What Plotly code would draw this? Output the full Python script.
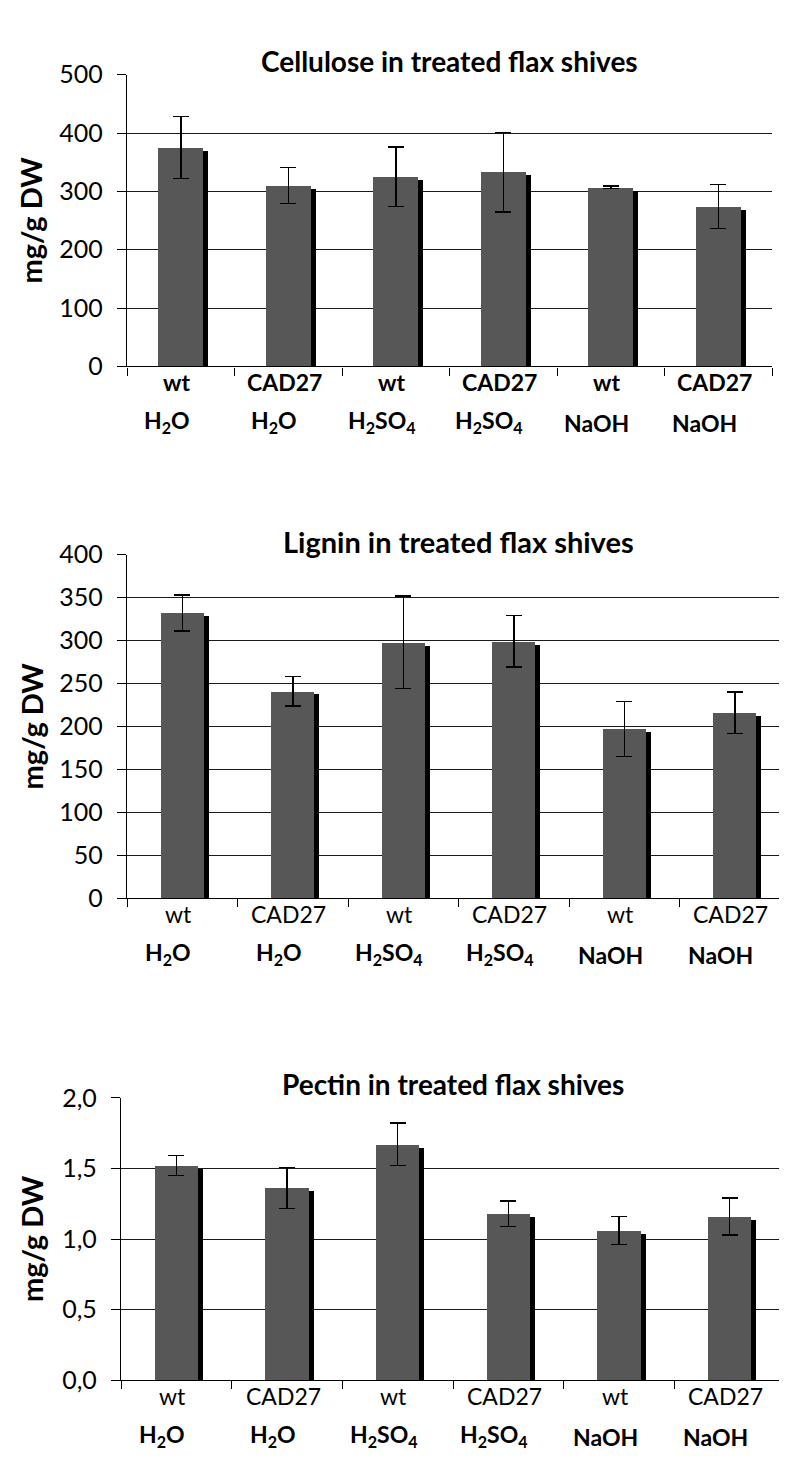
import plotly.graph_objects as go

# x categories (two label lines under each bar)
genotypes = ["wt", "CAD27", "wt", "CAD27", "wt", "CAD27"]
treatments = ["H<sub>2</sub>O", "H<sub>2</sub>O", "H<sub>2</sub>SO<sub>4</sub>",
              "H<sub>2</sub>SO<sub>4</sub>", "NaOH", "NaOH"]
categories = ["wt H2O", "CAD27 H2O", "wt H2SO4", "CAD27 H2SO4", "wt NaOH", "CAD27 NaOH"]

# mg/g DW
cellulose = [375, 310, 325, 333, 307, 274]
cellulose_err = [53, 31, 51, 68, 2.5, 38]

lignin = [332, 241, 298, 299, 197, 216]
lignin_err = [21, 17, 54, 30, 32, 24]

pectin = [1.52, 1.36, 1.67, 1.18, 1.06, 1.16]
pectin_err = [0.07, 0.145, 0.15, 0.09, 0.10, 0.13]

W, H = 787, 1480
FONT = "Lato"
BAR = "#575757"

panels = [
    dict(title="Cellulose in treated flax shives", y=cellulose, err=cellulose_err,
         ymax=500, dtick=100, fmt="d", bold_geno=True, bw=0.42,
         xdom=[119 / W, 764 / W], ydom=[1 - 349.5 / H, 1 - 51.7 / H], tsize=28),
    dict(title="Lignin in treated flax shives", y=lignin, err=lignin_err,
         ymax=400, dtick=50, fmt="d", bold_geno=False, bw=0.39,
         xdom=[119 / W, 782 / W], ydom=[1 - 892.3 / H, 1 - 541.7 / H], tsize=29),
    dict(title="Pectin in treated flax shives", y=pectin, err=pectin_err,
         ymax=2.0, dtick=0.5, fmt=".1f", bold_geno=False, bw=0.39,
         xdom=[113 / W, 777 / W], ydom=[1 - 1384.3 / H, 1 - 1096 / H], tsize=28),
]

fig = go.Figure()
annotations = []

for i, p in enumerate(panels, start=1):
    xa = "x" if i == 1 else f"x{i}"
    ya = "y" if i == 1 else f"y{i}"
    plot_h = (p["ydom"][1] - p["ydom"][0]) * H
    plot_w = (p["xdom"][1] - p["xdom"][0]) * W
    drop = 3 * p["ymax"] / plot_h          # shadow sits 3px lower
    shift = 5 * 6 / plot_w                 # and 5px to the right
    bw = p["bw"]

    # drop shadow
    fig.add_trace(go.Bar(
        x=categories, y=[v - drop for v in p["y"]], xaxis=xa, yaxis=ya,
        width=bw, offset=-bw / 2 + shift, marker=dict(color="black", line_width=0),
        hoverinfo="skip", showlegend=False))
    # main bars
    fig.add_trace(go.Bar(
        x=categories, y=p["y"], xaxis=xa, yaxis=ya,
        width=bw, offset=-bw / 2, marker=dict(color=BAR, line_width=0),
        error_y=dict(type="data", array=p["err"], color="black", thickness=1.5, width=8),
        showlegend=False))

    xkey = "xaxis" if i == 1 else f"xaxis{i}"
    ykey = "yaxis" if i == 1 else f"yaxis{i}"
    fig.layout[xkey] = dict(
        domain=p["xdom"], anchor=ya, type="category",
        showline=True, linecolor="black", linewidth=1.3,
        ticks="outside", tickson="boundaries", ticklen=8, tickcolor="black", tickwidth=1.3,
        showticklabels=False, showgrid=False, zeroline=False)
    fig.layout[ykey] = dict(
        domain=p["ydom"], anchor=xa, range=[0, p["ymax"]], dtick=p["dtick"],
        tickformat=p["fmt"], showline=True, linecolor="black", linewidth=1.3,
        ticks="outside", ticklen=9, tickcolor="black", tickwidth=1.3,
        ticklabelstandoff=9,
        showgrid=True, gridcolor="#1a1a1a", gridwidth=1.3, zeroline=False,
        tickfont=dict(family=FONT, size=25, color="black"))

    xd = f"{xa} domain"
    yd = f"{ya} domain"
    annotations.append(dict(
        text=f"<b>{p['title']}</b>", xref=xd, yref=yd, x=0.5, y=1, yshift=33,
        showarrow=False, font=dict(family=FONT, size=p["tsize"], color="black")))
    annotations.append(dict(
        text="<b>mg/g DW</b>", xref="paper", yref=yd, x=23 / W, y=0.5,
        xanchor="center", yanchor="middle",
        textangle=-90, showarrow=False, font=dict(family=FONT, size=29, color="black")))
    for c, g, t in zip(categories, genotypes, treatments):
        gtxt = f"<b>{g}</b>" if p["bold_geno"] else g
        annotations.append(dict(
            text=gtxt, xref=xa, yref=yd, x=c, y=0, yshift=-32, xshift=-4,
            showarrow=False, font=dict(family=FONT, size=23, color="black")))
        annotations.append(dict(
            text=f"<b>{t}</b>", xref=xa, yref=yd, x=c, y=0, yshift=-73, xshift=-14,
            showarrow=False, font=dict(family=FONT, size=23, color="black")))

fig.update_layout(
    width=W, height=H, margin=dict(l=0, r=0, t=0, b=0),
    paper_bgcolor="white", plot_bgcolor="white",
    barmode="overlay", bargap=0, separators=", ",
    annotations=annotations, font=dict(family=FONT, color="black"))

fig.write_html("out.html")
